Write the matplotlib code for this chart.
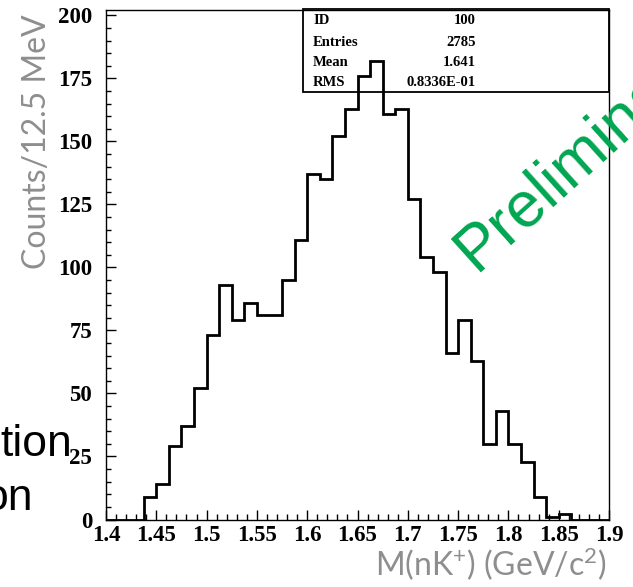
import numpy as np
import matplotlib
matplotlib.use("Agg")
import matplotlib.pyplot as plt
from matplotlib.patches import Rectangle

# M(nK+) spectrum, 12.5 MeV bins from 1.4 to 1.9 GeV/c^2
bin_edges = np.linspace(1.4, 1.9, 41)
counts = [0, 0, 0, 9, 14, 29, 37, 52, 73, 93,
          79, 86, 81, 81, 95, 111, 137, 135, 152, 163,
          176, 182, 161, 163, 127, 104, 98, 66, 79, 63,
          30, 43, 30, 23, 9, 1, 2, 0, 0, 0]

# stats box contents
stat_names = ["ID", "Entries", "Mean", "RMS"]
stat_values = ["100", "2785", "1.641", "0.8336E-01"]

x_ticks = [1.4, 1.45, 1.5, 1.55, 1.6, 1.65, 1.7, 1.75, 1.8, 1.85, 1.9]
x_tick_labels = ["1.4", "1.45", "1.5", "1.55", "1.6", "1.65", "1.7", "1.75", "1.8", "1.85", "1.9"]
y_ticks = [0, 25, 50, 75, 100, 125, 150, 175, 200]

W, H = 633, 587
plt.rcParams['mathtext.fontset'] = 'custom'
plt.rcParams['mathtext.rm'] = 'Lato'
plt.rcParams['mathtext.it'] = 'Lato'

fig = plt.figure(figsize=(W / 100, H / 100), dpi=100)


def fx(px):
    return px / W


def fy(py):
    return 1 - py / H


ax = fig.add_axes([fx(106), fy(519.5), fx(609) - fx(106), fy(9.5) - fy(519.5)])
ax.stairs(counts, bin_edges, color='black', linewidth=2.0, zorder=3)

ax.set_xlim(1.4, 1.9)
ax.set_ylim(0, 202.3)
ax.set_xticks(x_ticks)
ax.set_xticklabels(x_tick_labels)
ax.set_xticks(np.arange(1.4, 1.9001, 0.01), minor=True)
ax.set_yticks(y_ticks)
ax.set_yticks(np.arange(0, 201, 5), minor=True)

for lab in ax.get_xticklabels() + ax.get_yticklabels():
    lab.set_fontfamily('Liberation Serif')
    lab.set_fontweight('bold')
    lab.set_fontsize(16.5)

ax.tick_params(which='both', direction='in', top=False, right=False, width=1.0, color='black')
ax.tick_params(axis='y', which='major', length=7.5, pad=10)
ax.tick_params(axis='y', which='minor', length=3.8)
ax.tick_params(axis='x', which='major', length=7, pad=4)
ax.tick_params(axis='x', which='minor', length=4)
for sp in ax.spines.values():
    sp.set_linewidth(1.0)

# stats box
ax.add_patch(Rectangle((0.3917, 0.838), 0.6083, 0.162, transform=ax.transAxes,
                       fill=False, edgecolor='black', linewidth=1.3, zorder=2,
                       clip_on=False))
row_y = [0.9775, 0.936, 0.897, 0.856]
for name, val, ry in zip(stat_names, stat_values, row_y):
    ax.text(0.4115, ry, name, transform=ax.transAxes, ha='left', va='center',
            family='Liberation Serif', weight='bold', fontsize=10.5, zorder=4)
    ax.text(0.7356, ry, val, transform=ax.transAxes, ha='right', va='center',
            family='Liberation Serif', weight='bold', fontsize=10.5, zorder=4)

# axis titles
fig.text(fx(37), fy(142), "Counts/12.5 MeV", rotation=90, ha='center', va='center',
         family='Lato', fontsize=23, color='#8e8e8e')
fig.text(fx(607), fy(576), r"M(nK$^{+}$) (GeV/c$^{2}$)", ha='right', va='baseline',
         family='Lato', fontsize=23, color='#8e8e8e')

# watermark
fig.text(fx(476), fy(272), "Preliminary", rotation=42, rotation_mode='anchor',
         ha='left', va='baseline', family='Liberation Sans', fontsize=46,
         color='#00a651', zorder=5)

# leftover slide text
fig.text(fx(72), fy(456), "tion", ha='right', va='baseline',
         family='Liberation Sans', fontsize=32, color='black', zorder=5)
fig.text(fx(33), fy(510), "on", ha='right', va='baseline',
         family='Liberation Sans', fontsize=32, color='black', zorder=5)

fig.savefig("out.png", dpi=100)
